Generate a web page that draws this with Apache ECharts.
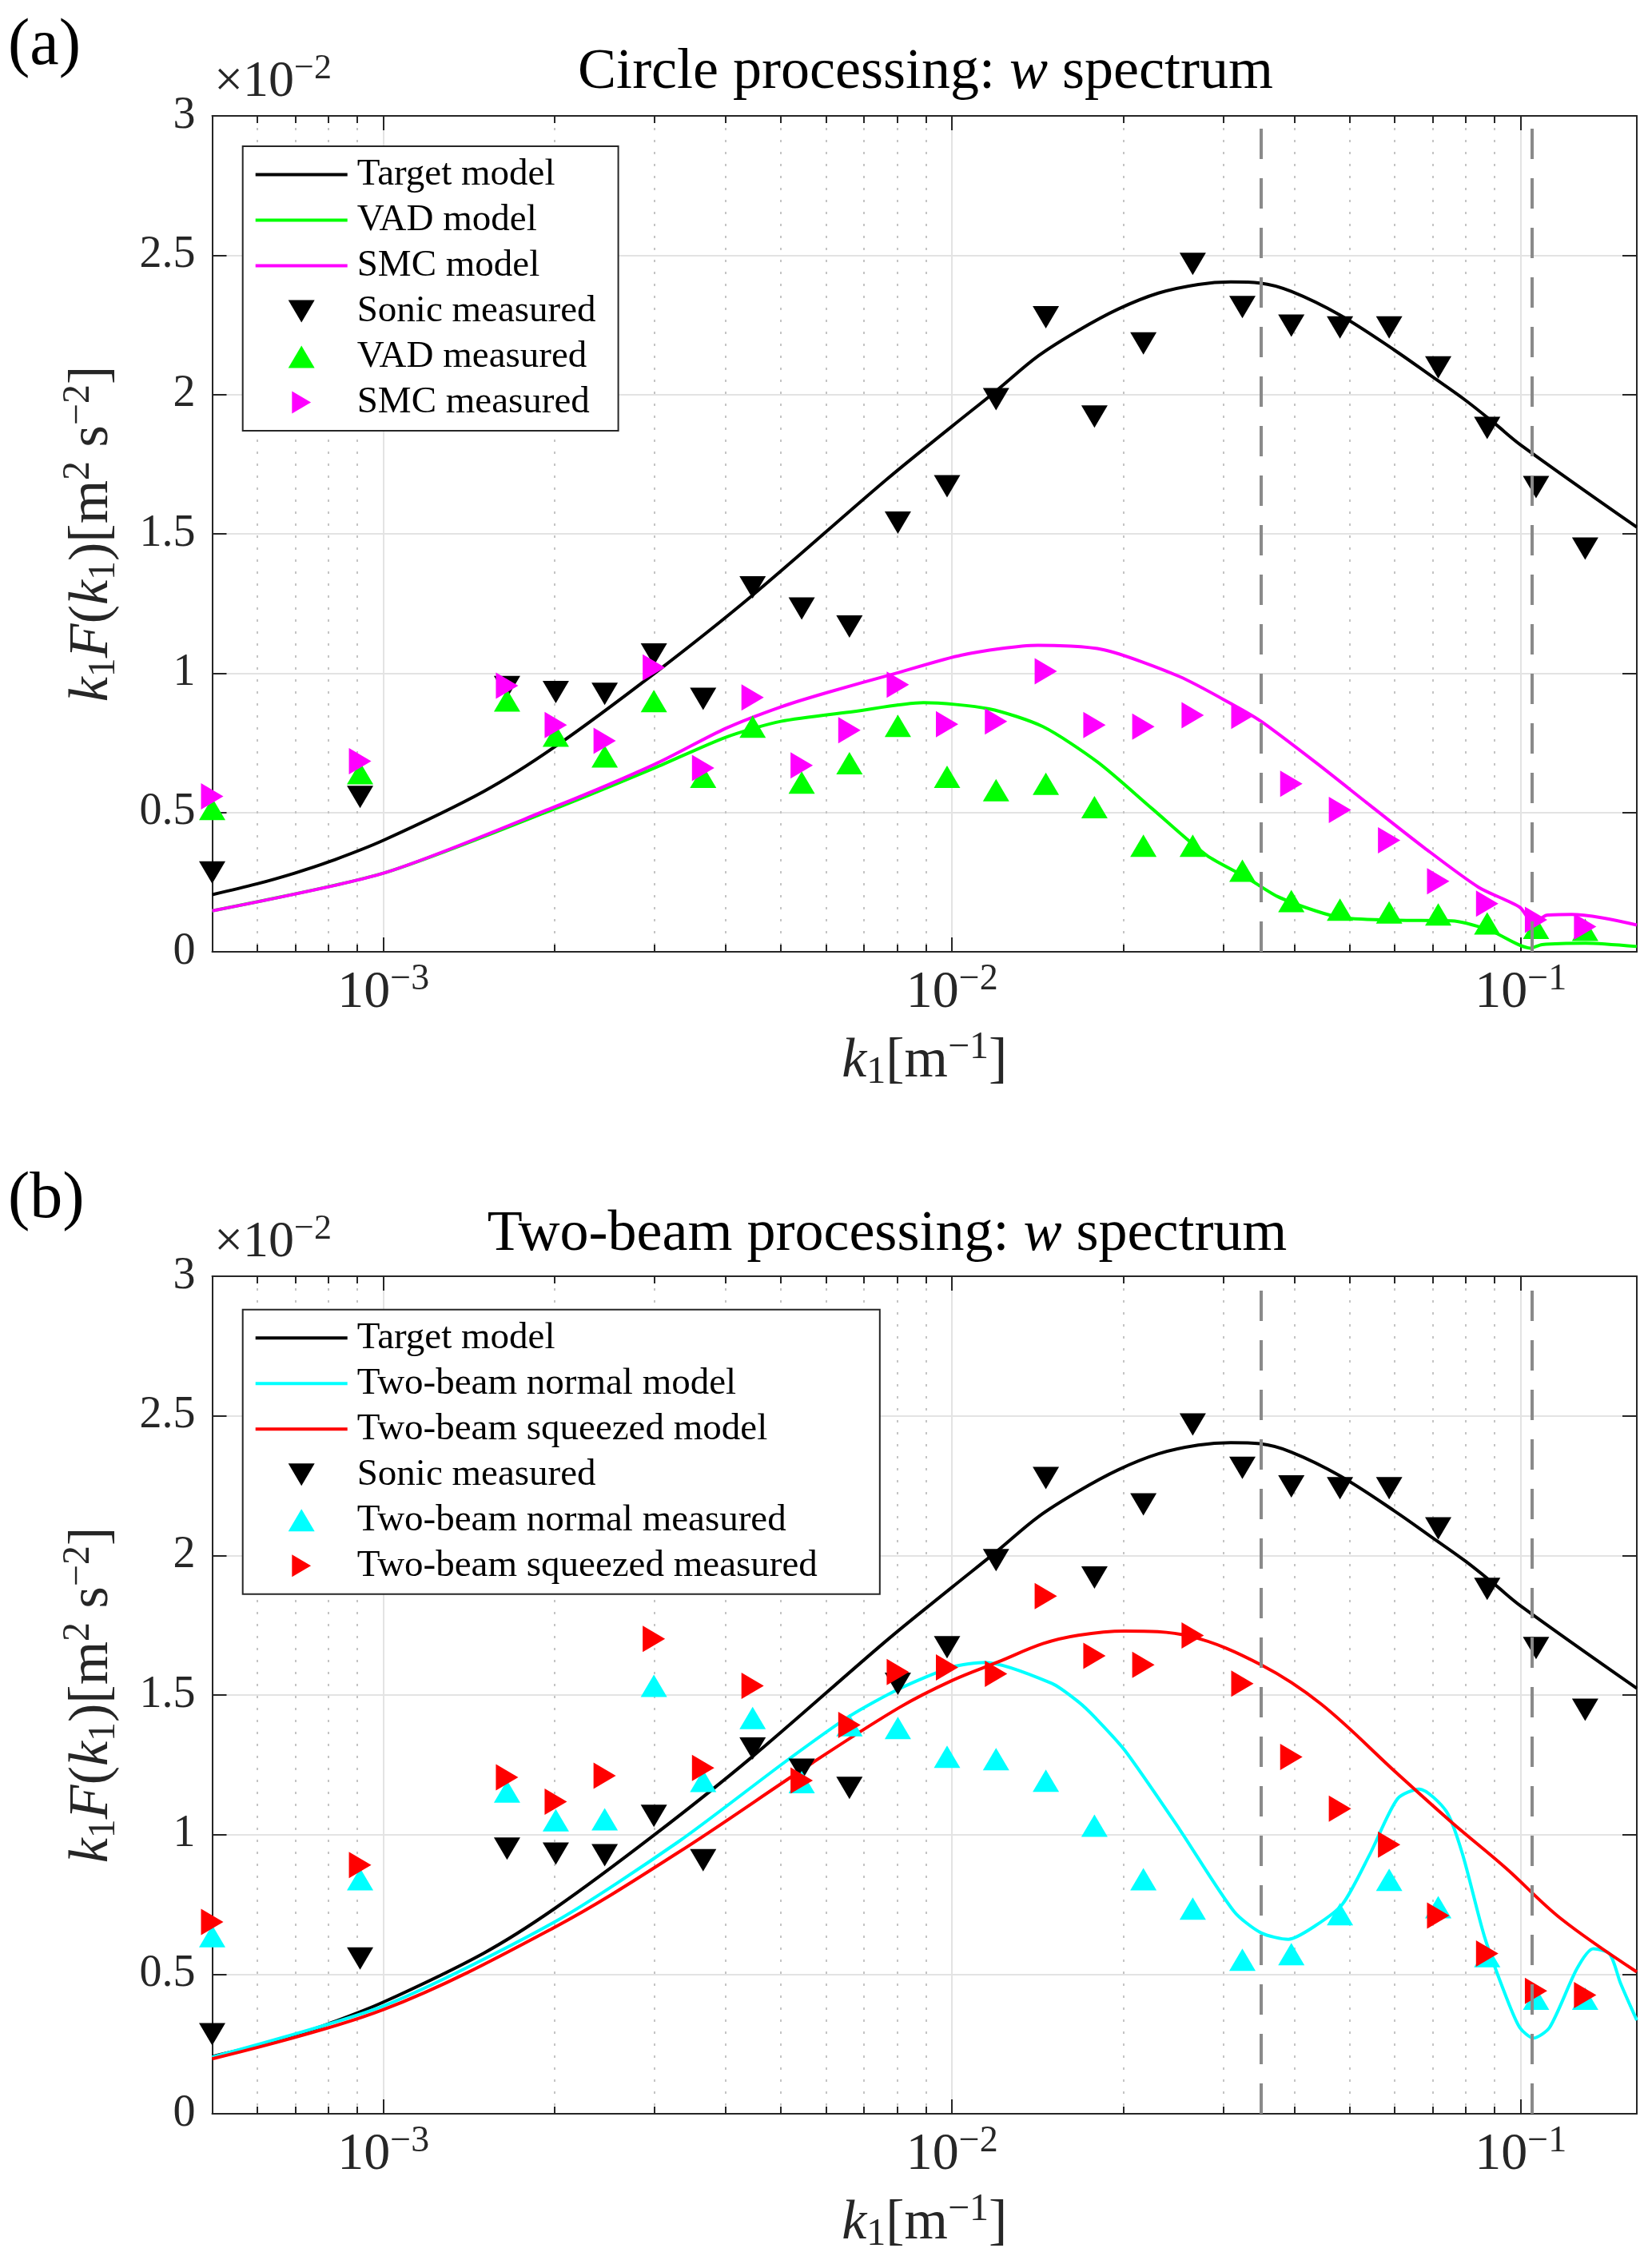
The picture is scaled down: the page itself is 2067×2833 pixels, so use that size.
<!DOCTYPE html>
<html>
<head>
<meta charset="utf-8">
<script src="https://cdn.jsdelivr.net/npm/echarts@6/dist/echarts.min.js"></script>
<style>
html,body{margin:0;padding:0;background:#ffffff;}
#chart{width:2067px;height:2833px;}
</style>
</head>
<body>
<div id="chart"></div>
<script>
// ---------------- data (values in units of 1e-2 m^2 s^-2) ----------------
const xMin = 5e-4;
const xMax = 0.16;
const xMajorTicks = [1e-3, 1e-2, 1e-1];
const xMajorExps = ['\u22123', '\u22122', '\u22121'];
const xMinorTicks = [6e-4, 7e-4, 8e-4, 9e-4, 2e-3, 3e-3, 4e-3, 5e-3, 6e-3, 7e-3, 8e-3, 9e-3,
  2e-2, 3e-2, 4e-2, 5e-2, 6e-2, 7e-2, 8e-2, 9e-2];
const yTicks = [0, 0.5, 1, 1.5, 2, 2.5, 3];
const cutoffK = [0.0349, 0.1047];

const panelLabels = ['(a)', '(b)'];
const panelTitles = ['Circle processing: ', 'Two-beam processing: '];
const legendNamesA = ['Target model', 'VAD model', 'SMC model', 'Sonic measured', 'VAD measured', 'SMC measured'];
const legendNamesB = ['Target model', 'Two-beam normal model', 'Two-beam squeezed model', 'Sonic measured', 'Two-beam normal measured', 'Two-beam squeezed measured'];

// measured (binned) wavenumbers
const kMeas = [5.0e-4, 9.1e-4, 1.65e-3, 2.01e-3, 2.45e-3, 2.99e-3, 3.65e-3, 4.46e-3, 5.44e-3, 6.6e-3,
  8.03e-3, 9.8e-3, 0.01195, 0.01462, 0.0178, 0.0217, 0.0265, 0.0324, 0.0395, 0.0481,
  0.0587, 0.0716, 0.0873, 0.1064, 0.1298];
const sonicMeas = [0.285, 0.556, 0.95, 0.932, 0.926, 1.067, 0.908, 1.308, 1.232, 1.167,
  1.54, 1.671, 1.983, 2.277, 1.921, 2.183, 2.469, 2.314, 2.247, 2.241,
  2.241, 2.097, 1.88, 1.668, 1.447];
const vadMeas = [0.513, 0.641, 0.902, 0.776, 0.701, 0.9, 0.628, 0.808, 0.607, 0.677,
  0.811, 0.628, 0.58, 0.603, 0.519, 0.381, 0.381, 0.291, 0.182, 0.151,
  0.141, 0.134, 0.102, 0.086, 0.079];
const smcMeas = [0.558, 0.684, 0.955, 0.814, 0.757, 1.02, 0.66, 0.913, 0.669, 0.795,
  0.959, 0.817, 0.827, 1.007, 0.814, 0.808, 0.849, 0.847, 0.603, 0.509,
  0.4, 0.253, 0.173, 0.115, 0.09];
const tbNormalMeas = [0.636, 0.84, 1.154, 1.051, 1.055, 1.533, 1.192, 1.418, 1.188, 1.392,
  1.382, 1.279, 1.27, 1.193, 1.032, 0.84, 0.735, 0.552, 0.572, 0.715,
  0.838, 0.74, 0.565, 0.412, 0.412];
const tbSqueezedMeas = [0.687, 0.891, 1.205, 1.118, 1.211, 1.701, 1.239, 1.533, 1.194, 1.393,
  1.582, 1.599, 1.576, 1.854, 1.64, 1.608, 1.713, 1.541, 1.278, 1.093,
  0.964, 0.71, 0.574, 0.44, 0.425];

// model curves
const kTarget = [5e-4, 6e-4, 7e-4, 8e-4, 1e-3, 1.5e-3, 2e-3, 3e-3, 4.43e-3, 7.67e-3,
  1e-2, 0.01194, 0.01419, 0.01668, 0.01961, 0.02306, 0.0271, 0.0309, 0.0348, 0.0395,
  0.0481, 0.06, 0.07, 0.08, 0.09, 0.1, 0.16];
const targetModel = [0.205, 0.244, 0.283, 0.322, 0.4, 0.575, 0.735, 1.0, 1.275, 1.695,
  1.886, 2.012, 2.139, 2.23, 2.307, 2.364, 2.395, 2.404, 2.4, 2.37,
  2.285, 2.159, 2.063, 1.979, 1.896, 1.819, 1.524];

const kVad = [5e-4, 1e-3, 2e-3, 3e-3, 4e-3, 5e-3, 6.7e-3, 8.91e-3, 0.01161, 0.01445,
  0.01805, 0.0225, 0.02805, 0.0328, 0.0373, 0.04357, 0.0486, 0.0607, 0.0755, 0.0882,
  0.104, 0.109, 0.13, 0.16];
const vadModel = [0.147, 0.282, 0.513, 0.66, 0.77, 0.827, 0.862, 0.894, 0.872, 0.808,
  0.68, 0.513, 0.346, 0.269, 0.199, 0.147, 0.122, 0.113, 0.111, 0.077,
  0.013, 0.026, 0.031, 0.019];

const kSmc = [5e-4, 1e-3, 2e-3, 3e-3, 4e-3, 5e-3, 6.02e-3, 7.98e-3, 0.0104, 0.01416,
  0.01845, 0.0251, 0.0313, 0.03495, 0.04357, 0.0543, 0.0678, 0.0844, 0.0996, 0.1052,
  0.111, 0.1228, 0.139, 0.16];
const smcModel = [0.147, 0.282, 0.52, 0.673, 0.802, 0.879, 0.93, 1.0, 1.065, 1.1,
  1.084, 0.988, 0.885, 0.827, 0.68, 0.526, 0.372, 0.231, 0.16, 0.102,
  0.131, 0.134, 0.122, 0.096];

const kTbNormal = [5e-4, 1e-3, 2e-3, 3.3e-3, 5.09e-3, 6.59e-3, 8.09e-3, 1e-2, 0.01143, 0.01497,
  0.01667, 0.01787, 0.02014, 0.02512, 0.03131, 0.03495, 0.03903, 0.04357, 0.0486, 0.0543,
  0.0607, 0.0663, 0.074, 0.079, 0.0863, 0.0943, 0.0996, 0.1052, 0.1124, 0.1256,
  0.1342, 0.1434, 0.1497, 0.16];
const tbNormalModel = [0.203, 0.386, 0.687, 0.974, 1.261, 1.423, 1.523, 1.6, 1.617, 1.542,
  1.476, 1.418, 1.301, 1.019, 0.725, 0.648, 0.625, 0.674, 0.751, 0.93,
  1.128, 1.163, 1.083, 0.93, 0.636, 0.418, 0.309, 0.271, 0.309, 0.52,
  0.591, 0.572, 0.469, 0.335];

const kTbSqueezed = [5e-4, 1e-3, 2e-3, 3.3e-3, 5.67e-3, 8.09e-3, 1e-2, 0.01207, 0.01445, 0.01667,
  0.0201, 0.02624, 0.03495, 0.0446, 0.0607, 0.0755, 0.0943, 0.1175, 0.16];
const tbSqueezedModel = [0.197, 0.373, 0.668, 0.936, 1.256, 1.456, 1.552, 1.619, 1.684, 1.714,
  1.729, 1.71, 1.608, 1.467, 1.218, 1.045, 0.879, 0.7, 0.508];

// ---------------- styling ----------------
const FONT = 'Liberation Serif';
const AX = '#262626';
const C = {black: '#000000', green: '#00ff00', magenta: '#ff00ff', cyan: '#00ffff', red: '#ff0000'};
const SYM_DOWN = 'path://M0,0L33,0L16.5,28Z';
const SYM_UP = 'path://M16.5,0L33,28L0,28Z';
const SYM_RIGHT = 'path://M0,0L28,16.5L0,33Z';
const ICON_LINE = 'path://M0,0H115V4H0Z';

const pair = (ks, vs) => ks.map((k, i) => [k, vs[i]]);

function mathRich(size, color) {
  const s = Math.round(size * 0.68);
  const base = {fontFamily: FONT, fontWeight: 'normal', color: color};
  return {
    n: Object.assign({fontSize: size, lineHeight: Math.round(size * 1.35)}, base),
    i: Object.assign({fontSize: size, fontStyle: 'italic', lineHeight: Math.round(size * 1.35)}, base),
    sub: Object.assign({fontSize: s, lineHeight: s, padding: [Math.round(size * 0.4), 0, 0, 0]}, base),
    sup: Object.assign({fontSize: s, lineHeight: s, padding: [0, 0, Math.round(size * 0.5), 0]}, base)
  };
}

const grids = [
  {left: 265.5, top: 145, width: 1782.5, height: 1046},
  {left: 265.5, top: 1597, width: 1782.5, height: 1048}
];

const xAxes = [];
const yAxes = [];
grids.forEach((g, gi) => {
  // bottom major
  xAxes.push({
    type: 'log', logBase: 10, gridIndex: gi, position: 'bottom', min: xMin, max: xMax,
    axisLine: {show: true, lineStyle: {color: AX, width: 2}},
    axisTick: {show: true, inside: true, length: 18, customValues: xMajorTicks, lineStyle: {color: AX, width: 2}},
    axisLabel: {
      show: true, margin: 12, customValues: xMajorTicks,
      formatter: function (v) {
        let idx = 0, best = 1e9;
        xMajorTicks.forEach((t, i) => { const d = Math.abs(Math.log10(t) - Math.log10(v)); if (d < best) { best = d; idx = i; } });
        return '{b|10}{s|' + xMajorExps[idx] + '}';
      },
      rich: {
        b: {fontFamily: FONT, fontWeight: 'normal', fontSize: 66, color: AX, lineHeight: 80},
        s: {fontFamily: FONT, fontWeight: 'normal', fontSize: 46, color: AX, lineHeight: 46, padding: [0, 0, 34, 0]}
      }
    },
    splitLine: {show: true, lineStyle: {color: '#e3e3e3', width: 2, type: 'solid'}},
    minorTick: {show: false}, minorSplitLine: {show: false},
    name: '{i|k}{sub|1}{n|[m}{sup|\u22121}{n|]}',
    nameLocation: 'middle', nameGap: 90,
    nameTextStyle: {rich: mathRich(70, AX)}
  });
  // bottom minor
  xAxes.push({
    type: 'log', logBase: 10, gridIndex: gi, position: 'bottom', min: xMin, max: xMax,
    axisLine: {show: false},
    axisTick: {show: true, inside: true, length: 9, customValues: xMinorTicks, lineStyle: {color: AX, width: 2}},
    axisLabel: {show: false},
    splitLine: {show: true, lineStyle: {color: '#c4c4c4', width: 2, type: [3, 12]}},
    minorTick: {show: false}, minorSplitLine: {show: false}
  });
  // top major
  xAxes.push({
    type: 'log', logBase: 10, gridIndex: gi, position: 'top', min: xMin, max: xMax,
    axisLine: {show: true, lineStyle: {color: AX, width: 2}},
    axisTick: {show: true, inside: true, length: 18, customValues: xMajorTicks, lineStyle: {color: AX, width: 2}},
    axisLabel: {show: false}, splitLine: {show: false},
    minorTick: {show: false}, minorSplitLine: {show: false}
  });
  // top minor
  xAxes.push({
    type: 'log', logBase: 10, gridIndex: gi, position: 'top', min: xMin, max: xMax,
    axisLine: {show: false},
    axisTick: {show: true, inside: true, length: 9, customValues: xMinorTicks, lineStyle: {color: AX, width: 2}},
    axisLabel: {show: false}, splitLine: {show: false},
    minorTick: {show: false}, minorSplitLine: {show: false}
  });
  // y left
  yAxes.push({
    type: 'value', gridIndex: gi, position: 'left',
    min: yTicks[0], max: yTicks[yTicks.length - 1], interval: yTicks[1] - yTicks[0],
    axisLine: {show: true, lineStyle: {color: AX, width: 2}},
    axisTick: {show: true, inside: true, length: 18, lineStyle: {color: AX, width: 2}},
    axisLabel: {show: true, margin: 21, fontFamily: FONT, fontWeight: 'normal', fontSize: 56, color: AX},
    splitLine: {show: true, lineStyle: {color: '#e3e3e3', width: 2}},
    name: '{i|k}{sub|1}{i|F}{n|(}{i|k}{sub|1}{n|)[m}{sup|2}{n| s}{sup|\u22122}{n|]}',
    nameLocation: 'middle', nameGap: 102,
    nameTextStyle: {rich: mathRich(70, AX)}
  });
  // y right
  yAxes.push({
    type: 'value', gridIndex: gi, position: 'right',
    min: yTicks[0], max: yTicks[yTicks.length - 1], interval: yTicks[1] - yTicks[0],
    axisLine: {show: true, lineStyle: {color: AX, width: 2}},
    axisTick: {show: true, inside: true, length: 18, lineStyle: {color: AX, width: 2}},
    axisLabel: {show: false}, splitLine: {show: false}
  });
});

const cutoffMarkLine = {
  silent: true, symbol: ['none', 'none'], label: {show: false}, precision: 6,
  lineStyle: {color: '#8a8a8a', width: 4, type: [38, 24]},
  emphasis: {disabled: true},
  data: cutoffK.map(v => ({xAxis: v}))
};

function lineSeries(name, ks, vs, color, xi, yi, smooth, extra) {
  return Object.assign({
    type: 'line', name: name, xAxisIndex: xi, yAxisIndex: yi,
    data: pair(ks, vs), showSymbol: false, symbol: 'none', smooth: smooth,
    color: color, lineStyle: {color: color, width: 4}, emphasis: {disabled: true}, z: 2
  }, extra || {});
}
function scatterSeries(name, vs, color, sym, size, xi, yi) {
  return {
    type: 'scatter', name: name, xAxisIndex: xi, yAxisIndex: yi,
    data: pair(kMeas, vs), symbol: sym, symbolSize: size, clip: false,
    color: color, itemStyle: {color: color, opacity: 1}, emphasis: {disabled: true}, z: 3
  };
}

const series = [
  lineSeries('Target model', kTarget, targetModel, C.black, 0, 0, 0.35, {markLine: cutoffMarkLine}),
  lineSeries('VAD model', kVad, vadModel, C.green, 0, 0, 0.25),
  lineSeries('SMC model', kSmc, smcModel, C.magenta, 0, 0, 0.25),
  scatterSeries('Sonic measured', sonicMeas, C.black, SYM_DOWN, [33, 28], 0, 0),
  scatterSeries('VAD measured', vadMeas, C.green, SYM_UP, [33, 28], 0, 0),
  scatterSeries('SMC measured', smcMeas, C.magenta, SYM_RIGHT, [28, 33], 0, 0),

  lineSeries('Target model', kTarget, targetModel, C.black, 4, 2, 0.35, {markLine: cutoffMarkLine}),
  lineSeries('Two-beam normal model', kTbNormal, tbNormalModel, C.cyan, 4, 2, 0.25),
  lineSeries('Two-beam squeezed model', kTbSqueezed, tbSqueezedModel, C.red, 4, 2, 0.35),
  scatterSeries('Sonic measured', sonicMeas, C.black, SYM_DOWN, [33, 28], 4, 2),
  scatterSeries('Two-beam normal measured', tbNormalMeas, C.cyan, SYM_UP, [33, 28], 4, 2),
  scatterSeries('Two-beam squeezed measured', tbSqueezedMeas, C.red, SYM_RIGHT, [28, 33], 4, 2)
];

const iconFor = ['line', 'line', 'line', SYM_DOWN, SYM_UP, SYM_RIGHT];
function legendData(names) {
  return names.map((n, i) => ({name: n, icon: iconFor[i] === 'line' ? ICON_LINE : iconFor[i]}));
}
function legendBox(top, names, padRight) {
  return {
    orient: 'vertical', left: 303.7, top: top,
    padding: [12, padRight, 12, 16], itemGap: 10, itemWidth: 115, itemHeight: 28,
    borderColor: AX, borderWidth: 2, backgroundColor: '#ffffff', borderRadius: 0,
    selectedMode: false, symbolKeepAspect: true,
    itemStyle: {borderWidth: 0},
    textStyle: {fontFamily: FONT, fontWeight: 'normal', fontSize: 47, color: '#000000', lineHeight: 42, padding: [0, 0, 0, 7]},
    data: legendData(names)
  };
}

const titleRich = {
  n: {fontFamily: FONT, fontWeight: 'normal', fontSize: 72, color: '#000000', lineHeight: 90},
  i: {fontFamily: FONT, fontWeight: 'normal', fontSize: 72, fontStyle: 'italic', color: '#000000', lineHeight: 90}
};
const expRich = {
  n: {fontFamily: FONT, fontWeight: 'normal', fontSize: 64, color: AX, lineHeight: 86},
  s: {fontFamily: FONT, fontWeight: 'normal', fontSize: 44, color: AX, lineHeight: 44, padding: [0, 0, 34, 0]}
};
const labelStyle = {fontFamily: FONT, fontSize: 82, fontWeight: 'normal', color: '#000', lineHeight: 82};

const titles = [
  {text: panelLabels[0], left: 10, top: 17, padding: 0, textStyle: labelStyle},
  {text: '{n|' + panelTitles[0] + '}{i|w}{n| spectrum}', left: 1158, top: 46, padding: 0, textAlign: 'center', textStyle: {fontWeight: 'normal', rich: titleRich}},
  {text: '{n|\u00d710}{s|\u22122}', left: 268, top: 60, padding: 0, textStyle: {fontWeight: 'normal', rich: expRich}},
  {text: panelLabels[1], left: 10, top: 1460, padding: 0, textStyle: labelStyle},
  {text: '{n|' + panelTitles[1] + '}{i|w}{n| spectrum}', left: 1110, top: 1500, padding: 0, textAlign: 'center', textStyle: {fontWeight: 'normal', rich: titleRich}},
  {text: '{n|\u00d710}{s|\u22122}', left: 268, top: 1512, padding: 0, textStyle: {fontWeight: 'normal', rich: expRich}}
];

const chart = echarts.init(document.getElementById('chart'), null, {renderer: 'canvas', width: 2067, height: 2833});
chart.setOption({
  animation: false,
  backgroundColor: '#ffffff',
  title: titles,
  grid: grids.map(g => Object.assign({outerBoundsMode: 'none', containLabel: false}, g)),
  xAxis: xAxes,
  yAxis: yAxes,
  legend: [legendBox(183, legendNamesA, 28), legendBox(1638.8, legendNamesB, 78)],
  series: series
});
</script>
</body>
</html>
